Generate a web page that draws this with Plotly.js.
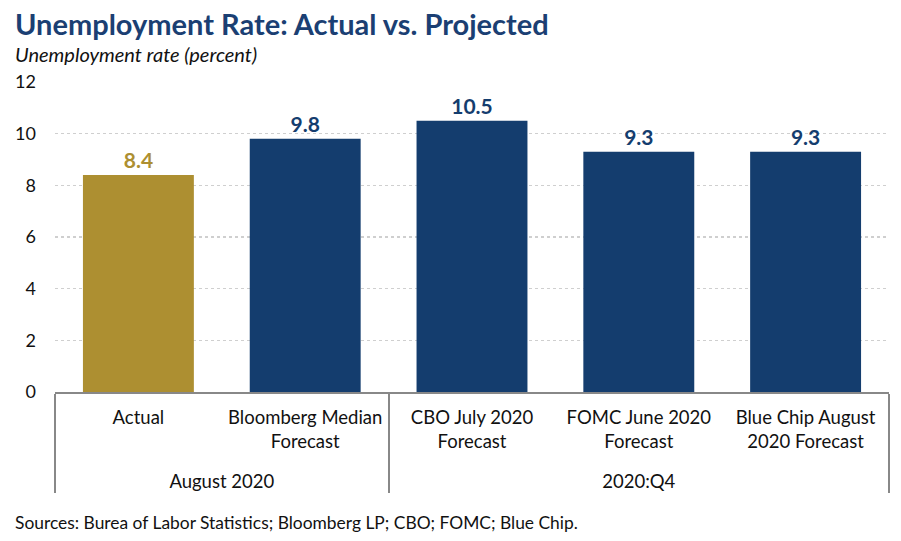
<!DOCTYPE html>
<html>
<head>
<meta charset="utf-8">
<script src="https://cdn.plot.ly/plotly-3.0.1.min.js"></script>
<style>html,body{margin:0;padding:0;background:#fff;}#chart{width:901px;height:541px;}</style>
</head>
<body>
<div id="chart"></div>
<script>
const groups = ["<br>August 2020", "<br>August 2020", "<br>2020:Q4", "<br>2020:Q4", "<br>2020:Q4"];
const categories = ["Actual", "Bloomberg Median<br>Forecast", "CBO July 2020<br>Forecast", "FOMC June 2020<br>Forecast", "Blue Chip August<br>2020 Forecast"];
const values = [8.4, 9.8, 10.5, 9.3, 9.3];
const barColors = ["#AD8F31", "#143D6E", "#143D6E", "#143D6E", "#143D6E"];
const yTicks = [0, 2, 4, 6, 8, 10, 12];

const FONT = "Lato, 'Open Sans', sans-serif";

const trace = {
  type: "bar",
  x: [groups, categories],
  y: values,
  marker: {color: barColors},
  text: values.map(v => v.toFixed(1)),
  textposition: "outside",
  textfont: {family: FONT, size: 21, color: barColors, weight: "bold"},
  cliponaxis: false,
  hoverinfo: "skip"
};

const layout = {
  width: 901, height: 541,
  margin: {l: 55, r: 12, t: 82, b: 149},
  paper_bgcolor: "#fff", plot_bgcolor: "#fff",
  font: {family: FONT, size: 18.5, color: "#111"},
  bargap: 0.335,
  showlegend: false,
  xaxis: {
    type: "multicategory",
    showline: true, linecolor: "#888", linewidth: 2,
    showgrid: false, ticks: "", ticklabelstandoff: 8,
    showdividers: true, dividercolor: "#888", dividerwidth: 2,
    tickfont: {family: FONT, size: 18.5, color: "#111"}
  },
  yaxis: {
    range: [0, 12], tickvals: yTicks, ticktext: yTicks.map(String),
    showline: false, zeroline: false,
    showgrid: true, gridcolor: "#cfcfcf", gridwidth: 1.5, griddash: "dot",
    ticks: "", ticklabelstandoff: 18,
    tickfont: {family: FONT, size: 18, color: "#111"}
  },
  annotations: [
    {xref: "paper", yref: "paper", x: -42/834, y: 349/310, xanchor: "left", yanchor: "bottom",
     text: "<b>Unemployment Rate: Actual vs. Projected</b>", showarrow: false,
     font: {family: FONT, size: 29, color: "#1B3F73"}},
    {xref: "paper", yref: "paper", x: -42/834, y: 324/310, xanchor: "left", yanchor: "bottom",
     text: "<i>Unemployment rate (percent)</i>", showarrow: false,
     font: {family: FONT, size: 20, color: "#111"}},
    {xref: "paper", yref: "paper", x: -42/834, y: -118/310, xanchor: "left", yanchor: "top",
     text: "Sources: Burea of Labor Statistics; Bloomberg LP; CBO; FOMC; Blue Chip.", showarrow: false,
     font: {family: FONT, size: 17.4, color: "#111"}}
  ]
};

Plotly.newPlot("chart", [trace], layout, {staticPlot: true, displayModeBar: false});
</script>
</body>
</html>
